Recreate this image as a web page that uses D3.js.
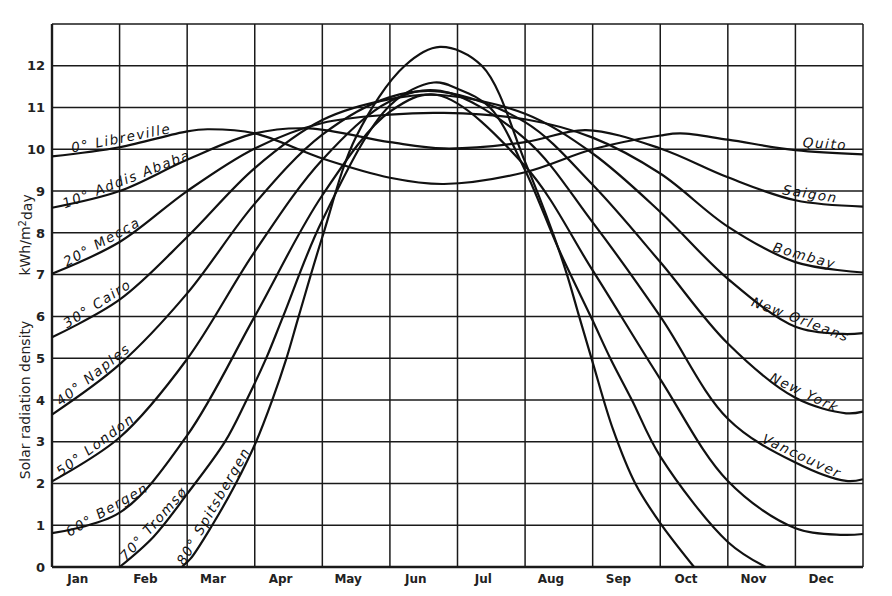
<!DOCTYPE html>
<html>
<head>
<meta charset="utf-8">
<script src="https://cdn.jsdelivr.net/npm/d3@7"></script>
<style>
  html, body { margin: 0; padding: 0; background: #fff; }
  #chart svg { display: block; }
</style>
</head>
<body>
<div id="chart"></div>
<script>
// solar radiation by month, one curve per latitude

const months = ["Jan", "Feb", "Mar", "Apr", "May", "Jun", "Jul", "Aug", "Sep", "Oct", "Nov", "Dec"];
const yTicks = [0, 1, 2, 3, 4, 5, 6, 7, 8, 9, 10, 11, 12];

// [month position (0 = 1 Jan, 12 = 31 Dec), kWh/m2 day]
const lat0 = [[0, 9.83], [1, 10.05], [2, 10.43], [2.3, 10.48], [3, 10.38], [4, 9.78], [5, 9.32], [5.8, 9.17], [7, 9.45], [8, 10.0], [9, 10.33], [9.3, 10.38], [10, 10.23], [11, 9.98], [12, 9.88]];
const lat10 = [[0, 8.6], [1, 9.0], [2, 9.75], [3, 10.38], [3.8, 10.5], [5, 10.17], [5.8, 10.02], [7, 10.17], [7.9, 10.46], [9, 10.02], [10, 9.33], [11, 8.78], [12, 8.63]];
const lat20 = [[0, 7.02], [1, 7.78], [2, 9.0], [3, 10.02], [4, 10.63], [5, 10.83], [5.8, 10.87], [7, 10.72], [8, 10.28], [9, 9.42], [10, 8.15], [11, 7.3], [12, 7.05]];
const lat30 = [[0, 5.5], [1, 6.4], [2, 7.9], [3, 9.55], [4, 10.7], [5, 11.2], [5.75, 11.3], [7, 10.85], [8, 9.9], [9, 8.5], [10, 6.9], [11, 5.75], [11.7, 5.58], [12, 5.6]];
const lat40 = [[0, 3.65], [1, 4.85], [2, 6.55], [3, 8.7], [4, 10.35], [5, 11.25], [5.75, 11.38], [7, 10.65], [8, 9.15], [9, 7.3], [10, 5.35], [11, 4.05], [11.75, 3.68], [12, 3.72]];
const lat50 = [[0, 2.05], [1, 3.1], [2, 4.98], [3, 7.55], [4, 9.75], [5, 11.15], [5.75, 11.4], [7, 10.25], [8, 8.25], [9, 6.0], [10, 3.55], [11, 2.5], [11.75, 2.06], [12, 2.1]];
const lat60 = [[0, 0.81], [1, 1.3], [2, 3.15], [3, 6.0], [4, 8.9], [5, 10.9], [5.7, 11.3], [7, 9.6], [8, 7.1], [9, 4.5], [10, 2.06], [11, 0.93], [11.7, 0.77], [12, 0.79]];
const lat70 = [[1, 0], [1.5, 0.72], [2, 1.75], [2.56, 3], [2.88, 4], [3.17, 5], [3.42, 6], [4, 8.3], [5, 11.05], [5.65, 11.6], [6, 11.45], [6.48, 11], [7, 9.5], [7.5, 7.6], [8, 5.9], [8.26, 5], [8.58, 4], [9, 2.65], [10, 0.6], [10.56, 0]];
const lat80 = [[1.92, 0], [2.05, 0.2], [2.37, 1], [2.72, 2], [3.02, 3], [3.26, 4], [3.47, 5], [3.65, 6], [4, 7.9], [4.5, 10.3], [5.22, 12], [5.74, 12.45], [6.36, 12], [7, 9.7], [7.41, 8], [7.62, 7], [7.8, 6], [8, 4.9], [8.3, 3.3], [8.63, 2.0], [9, 1.05], [9.5, 0]];

const latitudes = [0, 10, 20, 30, 40, 50, 60, 70, 80];
const leftNames = ["Libreville", "Addis Ababa", "Mecca", "Cairo", "Naples", "London", "Bergen", "Tromsø", "Spitsbergen"];
const rightNames = ["Quito", "Saigon", "Bombay", "New Orleans", "New York", "Vancouver"];

const seriesPoints = [lat0, lat10, lat20, lat30, lat40, lat50, lat60, lat70, lat80];

// where the labels sit along their curve (month position of label centre)
const leftSpots = [1.05, 1.15, 0.8, 0.74, 0.69, 0.72, 0.88, 1.6, 2.5];
const rightSpots = [11.43, 11.2, 11.1, 11.03, 11.08, 11.04];

const width = 892, height = 596;
const margin = { top: 24, right: 29, bottom: 29, left: 52 };

const svg = d3.select("#chart")
  .append("svg")
  .attr("width", width)
  .attr("height", height);

const x = d3.scaleLinear().domain([0, 12]).range([margin.left, width - margin.right]);
const y = d3.scaleLinear().domain([0, 13]).range([height - margin.bottom, margin.top]);

const ink = "#111";

// grid
const grid = svg.append("g").attr("stroke", "#1a1a1a").attr("stroke-width", 1.5);
grid.selectAll("line.v")
  .data(d3.range(0, 13))
  .join("line")
  .attr("class", "v")
  .attr("x1", d => x(d)).attr("x2", d => x(d))
  .attr("y1", y(0)).attr("y2", y(13))
  .attr("stroke-width", d => d === 0 ? 2.4 : 1.5);
grid.selectAll("line.h")
  .data(d3.range(0, 14))
  .join("line")
  .attr("class", "h")
  .attr("x1", x(0)).attr("x2", x(12))
  .attr("y1", d => y(d)).attr("y2", d => y(d))
  .attr("stroke-width", d => d === 0 ? 2.6 : 1.5);

// y tick labels
svg.append("g")
  .selectAll("text")
  .data(yTicks)
  .join("text")
  .attr("x", x(0) - 7)
  .attr("y", d => y(d))
  .attr("dy", "0.36em")
  .attr("text-anchor", "end")
  .style("font", "bold 13px 'DejaVu Sans', sans-serif")
  .style("fill", "#222")
  .text(d => d);

// month labels
svg.append("g")
  .selectAll("text")
  .data(months)
  .join("text")
  .attr("x", (d, i) => x(i + 0.5) - 8)
  .attr("y", y(0) + 16)
  .attr("text-anchor", "middle")
  .style("font", "bold 12px 'DejaVu Sans', sans-serif")
  .style("fill", "#222")
  .text(d => d);

// axis title, two parts
const titleX = 25;
svg.append("text")
  .attr("transform", `translate(${titleX},${y(4)}) rotate(-90)`)
  .attr("dy", "0.35em")
  .attr("text-anchor", "middle")
  .style("font", "14px 'DejaVu Sans', sans-serif")
  .style("fill", "#222")
  .text("Solar radiation density");
const unit = svg.append("text")
  .attr("transform", `translate(${titleX},${y(7.95)}) rotate(-90)`)
  .attr("dy", "0.35em")
  .attr("text-anchor", "middle")
  .style("font", "14px 'DejaVu Sans', sans-serif")
  .style("fill", "#222");
unit.append("tspan").text("kWh/m");
unit.append("tspan").attr("dy", "-0.4em").style("font-size", "10px").text("2");
unit.append("tspan").attr("dy", "0.4em").text("day");

// curves
const line = d3.line()
  .x(d => x(d[0]))
  .y(d => y(d[1]))
  .curve(d3.curveCatmullRom.alpha(0.5));

const curves = svg.append("g")
  .attr("fill", "none")
  .attr("stroke", ink)
  .attr("stroke-width", 2.2)
  .attr("stroke-linejoin", "round")
  .selectAll("path")
  .data(seriesPoints)
  .join("path")
  .attr("d", line);

// point on a drawn curve at a given screen x (curves run left to right)
function pointAtX(node, px) {
  const total = node.getTotalLength();
  const first = node.getPointAtLength(0);
  const last = node.getPointAtLength(total);
  px = Math.max(first.x, Math.min(last.x, px));
  let lo = 0, hi = total;
  for (let k = 0; k < 40; k++) {
    const mid = (lo + hi) / 2;
    if (node.getPointAtLength(mid).x < px) lo = mid; else hi = mid;
  }
  return node.getPointAtLength((lo + hi) / 2);
}

function placeLabel(node, m, text, halfSpan) {
  const c = pointAtX(node, x(m));
  const a = pointAtX(node, x(m - halfSpan));
  const b = pointAtX(node, x(m + halfSpan));
  const angle = Math.atan2(b.y - a.y, b.x - a.x) * 180 / Math.PI;
  svg.append("text")
    .attr("transform", `translate(${c.x},${c.y}) rotate(${angle})`)
    .attr("dy", -4)
    .attr("text-anchor", "middle")
    .style("font", "italic 13.5px 'DejaVu Sans', sans-serif")
    .style("letter-spacing", "1.6px")
    .style("fill", ink)
    .text(text);
}

const nodes = curves.nodes();
latitudes.forEach((lat, i) => {
  placeLabel(nodes[i], leftSpots[i], `${lat}° ${leftNames[i]}`, 0.6);
});
rightNames.forEach((name, i) => {
  placeLabel(nodes[i], rightSpots[i], name, 0.45);
});
</script>
</body>
</html>
